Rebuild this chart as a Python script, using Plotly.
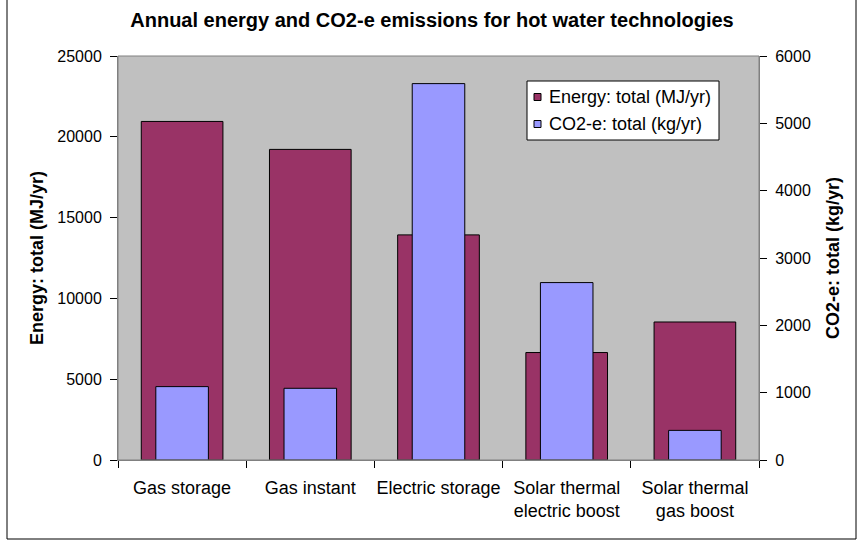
import plotly.graph_objects as go

# Hot water technologies and their annual totals
categories = ["Gas storage", "Gas instant", "Electric storage",
              "Solar thermal<br>electric boost", "Solar thermal<br>gas boost"]
energy_mj = [20950, 19220, 13930, 6650, 8540]
co2_kg = [1090, 1065, 5590, 2635, 440]

energy_ticks = [0, 5000, 10000, 15000, 20000, 25000]
co2_ticks = [0, 1000, 2000, 3000, 4000, 5000, 6000]

series_names = ["Energy: total (MJ/yr)", "CO2-e: total (kg/yr)"]
series_colors = ["#993366", "#9999FF"]

FONT = "Liberation Sans, Arial, sans-serif"
W, H = 864, 546
L, R, T, B = 118, 105, 56, 86
PW, PH = W - L - R, H - T - B


def px_x(x):
    """Pixel column -> paper x."""
    return (x - L) / PW


def px_y(y):
    """Pixel row -> paper y."""
    return (H - B - y) / PH


fig = go.Figure()
fig.add_trace(go.Bar(
    x=categories, y=energy_mj, name=series_names[0],
    marker=dict(color=series_colors[0], line=dict(color="#000000", width=1)),
    width=0.637, yaxis="y", offsetgroup="a",
))
fig.add_trace(go.Bar(
    x=categories, y=co2_kg, name=series_names[1],
    marker=dict(color=series_colors[1], line=dict(color="#000000", width=1)),
    width=0.41, yaxis="y2", offsetgroup="a",
))

fig.update_layout(
    width=W, height=H,
    margin=dict(l=L, r=R, t=T, b=B),
    paper_bgcolor="#FFFFFF",
    plot_bgcolor="#C0C0C0",
    barmode="overlay",
    showlegend=False,
    font=dict(family=FONT, size=16, color="#000000"),
    title=dict(text="<b>Annual energy and CO2-e emissions for hot water technologies</b>",
               x=0.5, xanchor="center", y=1 - 20 / H, yanchor="middle",
               font=dict(family=FONT, size=20, color="#000000")),
    xaxis=dict(
        type="category", tickson="boundaries", ticks="outside", ticklen=7,
        tickcolor="#000000", showline=True, linecolor="#808080", linewidth=1,
        showgrid=False, tickfont=dict(size=18), range=[-0.5, 4.5],
        tickangle=0, automargin=False, ticklabelstandoff=11,
    ),
    yaxis=dict(
        range=[0, 25000], tickvals=energy_ticks, ticks="outside", ticklen=7,
        tickcolor="#000000", showline=True, linecolor="#808080", linewidth=1,
        showgrid=False, zeroline=False, tickfont=dict(size=16),
        tickformat="d", ticklabelstandoff=5, automargin=False,
    ),
    yaxis2=dict(
        range=[0, 6000], tickvals=co2_ticks, overlaying="y", side="right",
        ticks="outside", ticklen=7, tickcolor="#000000", showline=True,
        linecolor="#808080", linewidth=1, showgrid=False, zeroline=False,
        tickfont=dict(size=16), tickformat="d", ticklabelstandoff=5,
        automargin=False,
    ),
)

# Axis titles
fig.add_annotation(
    text="<b>Energy: total (MJ/yr)</b>", textangle=-90,
    xref="paper", yref="paper", x=px_x(37), y=0.5,
    xanchor="center", yanchor="middle",
    showarrow=False, font=dict(size=18),
)
fig.add_annotation(
    text="<b>CO2-e: total (kg/yr)</b>", textangle=-90,
    xref="paper", yref="paper", x=px_x(833), y=0.5,
    xanchor="center", yanchor="middle",
    showarrow=False, font=dict(size=18),
)

# Legend box with colour keys
fig.add_shape(type="rect", xref="paper", yref="paper",
              x0=px_x(527), x1=px_x(719), y0=px_y(140), y1=px_y(81),
              fillcolor="#FFFFFF", line=dict(color="#000000", width=1),
              layer="above")
for i, (name, color) in enumerate(zip(series_names, series_colors)):
    cy = 97 + i * 27
    fig.add_shape(type="rect", xref="paper", yref="paper",
                  x0=px_x(534), x1=px_x(541), y0=px_y(cy + 3.5), y1=px_y(cy - 3.5),
                  fillcolor=color, line=dict(color="#000000", width=1),
                  layer="above")
    fig.add_annotation(text=name, xref="paper", yref="paper",
                       x=px_x(547), y=px_y(cy), xanchor="left", yanchor="middle",
                       showarrow=False, font=dict(size=18))

# Plot-area border and outer chart frame
fig.add_shape(type="rect", xref="paper", yref="paper", x0=0, y0=0, x1=1, y1=1,
              line=dict(color="#808080", width=1), layer="above")
fig.add_shape(type="rect", xref="paper", yref="paper",
              x0=px_x(7), x1=px_x(856), y0=px_y(539), y1=px_y(-3),
              line=dict(color="#000000", width=1))

fig.write_html("out.html")
